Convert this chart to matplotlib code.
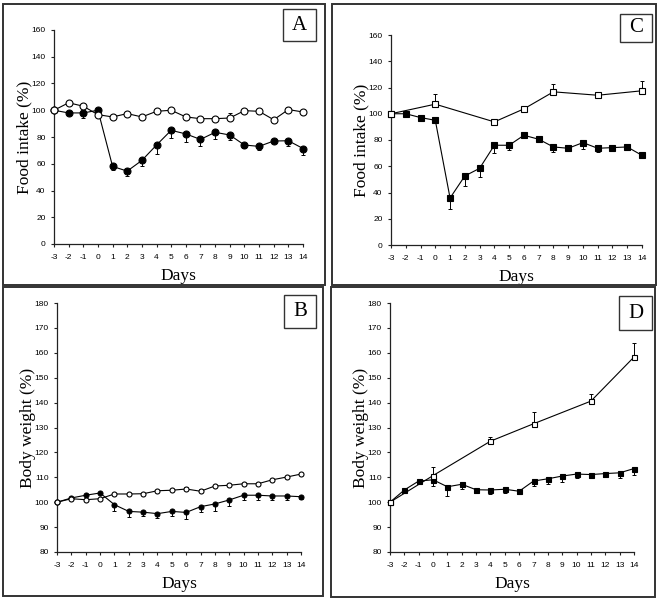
import numpy as np
import matplotlib.pyplot as plt
from matplotlib.patches import Rectangle

plt.rcParams['axes.unicode_minus'] = False

# ─── data ───────────────────────────────────────────────────────────────────
DAYS = list(range(-3, 15))

# A: food intake, circles
A_FILLED = [100, 98, 98, 100, 58, 54.5, 62.5, 74, 85, 82.3, 78.2, 83.5, 81.5, 74, 73, 77, 77.2, 71.4]
A_FILLED_ERR = [0, 0, 4, 0, 3, 4, 4.5, 7, 6, 6, 5, 5, 4, 2, 2.5, 1.5, 4, 5]
A_OPEN = [100, 105.6, 103, 96.7, 95, 97.5, 95, 99.2, 100, 95, 93.7, 93.7, 94.2, 99.7, 99.2, 92.9, 100.5, 98.7]
A_OPEN_ERR = [0, 0, 0, 0, 0, 0, 0, 0, 0, 0, 0, 0, 4, 0, 0, 0, 2, 0]

# B: body weight, circles
B_FILLED = [100, 101.7, 102.8, 103.7, 99, 96.3, 96, 95.4, 96.3, 95.9, 98.2, 99.3, 100.9, 102.8, 102.8, 102.5, 102.5, 102.2]
B_FILLED_ERR = [0, 0, 0, 0, 2.4, 2.4, 1.7, 1.7, 1.7, 2.6, 2.3, 2.7, 2.3, 2.1, 2, 1.5, 1.5, 0.8]
B_OPEN = [100, 101.4, 101, 101.4, 103.3, 103.3, 103.4, 104.6, 104.8, 105.3, 104.4, 106.5, 106.8, 107.4, 107.4, 109, 110.1, 111.3]
B_OPEN_ERR = [0, 0, 0, 0, 0, 0, 0, 0, 0, 1, 0.8, 0, 0, 0, 0, 0, 0, 0]

# C: food intake, squares
C_FILLED = [100, 100, 97.1, 95, 35.8, 52.6, 58.4, 76, 76, 83.6, 80.6, 74.7, 73.7, 78, 73.7, 74.2, 74.7, 68.3]
C_FILLED_ERR = [0, 0, 0, 0, 8, 7.6, 6.6, 5.6, 3.8, 0, 2, 3.8, 0, 5, 2.8, 0, 0, 0]
C_OPEN_DAYS = [-3, 0, 4, 6, 8, 11, 14]
C_OPEN = [100, 107.3, 93.8, 103.7, 116.7, 114.1, 117.5]
C_OPEN_ERR = [0, 7.7, 0, 0, 5.8, 0, 7.1]

# D: body weight, squares
D_FILLED = [100, 104.9, 108.5, 109, 106.2, 107.2, 105, 104.9, 105.2, 104.4, 108.5, 109.4, 110.5, 111.3, 111.1, 111.5, 111.8, 113.5]
D_FILLED_ERR = [0, 0, 0, 2.4, 3.6, 2, 1.5, 1.5, 1.5, 1, 2, 2, 2.4, 1.5, 1.5, 1.5, 2, 2.7]
D_OPEN_DAYS = [-3, 0, 4, 7, 11, 14]
D_OPEN = [100, 110.7, 124.5, 131.5, 140.6, 158.3]
D_OPEN_ERR = [0, 3.6, 1.8, 4.8, 3, 5.7]

W, H = 661, 601
SANS = 'Liberation Sans'
SERIF = 'Liberation Serif'


def fig_rect(x0, y0, x1, y1):
    """pixel box (top-left origin) -> figure fraction [l, b, w, h]"""
    return [x0 / W, 1 - y1 / H, (x1 - x0) / W, (y1 - y0) / H]


def style_axes(ax, ylim, yticks, ylabel):
    for side in ('top', 'right'):
        ax.spines[side].set_visible(False)
    for side in ('left', 'bottom'):
        ax.spines[side].set_linewidth(0.9)
        ax.spines[side].set_color('#222222')
    ax.set_xlim(-3, 14)
    ax.set_ylim(*ylim)
    ax.set_xticks(DAYS)
    ax.set_yticks(yticks)
    ax.tick_params(direction='out', length=2.5, width=0.8, color='#222222',
                   labelsize=6)
    ax.tick_params(axis='x', pad=5)
    ax.tick_params(axis='y', pad=3.5)
    for lab in ax.get_xticklabels() + ax.get_yticklabels():
        lab.set_family(SANS)
    ax.set_xlabel('Days', family=SERIF, fontsize=12.5, labelpad=5)
    ax.set_ylabel(ylabel, family=SERIF, fontsize=12.5, labelpad=-1)
    ax.patch.set_alpha(0)


def series(ax, x, y, err, marker, face, ms, up):
    x = np.asarray(x)
    y = np.asarray(y, dtype=float)
    err = np.asarray(err, dtype=float)
    m = err > 0
    zeros = np.zeros(m.sum())
    yerr = [zeros, err[m]] if up else [err[m], zeros]
    eb = ax.errorbar(x[m], y[m], yerr=yerr, fmt='none', ecolor='black',
                     elinewidth=0.7, capsize=1.2, capthick=0.7, zorder=2)
    for art in eb.lines[1] + eb.lines[2]:
        art.set_clip_on(False)
    ax.plot(x, y, color='black', lw=0.8, marker=marker, ms=ms,
            mfc=face, mec='black', mew=0.8, zorder=3, clip_on=False)


def frame(fig, x0, y0, x1, y1, lw=1.4):
    l, b, w, h = fig_rect(x0, y0, x1, y1)
    fig.patches.append(Rectangle((l, b), w, h, transform=fig.transFigure,
                                 fill=False, ec='#333333', lw=lw))


def letter(fig, txt, x0, y0, x1, y1):
    frame(fig, x0, y0, x1, y1, lw=1.0)
    l, b, w, h = fig_rect(x0, y0, x1, y1)
    fig.text(l + w / 2, b + h / 2, txt, family=SERIF, fontsize=15,
             ha='center', va='center')


fig = plt.figure(figsize=(W / 100, H / 100), dpi=100)

# panel frames
frame(fig, 3, 4, 325, 285)
frame(fig, 332, 4, 656, 285)
frame(fig, 3, 287, 323, 596)
frame(fig, 331, 287, 655, 597)

ax_a = fig.add_axes(fig_rect(54, 30, 303, 244))
style_axes(ax_a, (0, 160), range(0, 161, 20), 'Food intake (%)')
series(ax_a, DAYS, A_FILLED, A_FILLED_ERR, 'o', 'black', 5, up=False)
series(ax_a, DAYS, A_OPEN, A_OPEN_ERR, 'o', 'white', 5, up=True)

ax_c = fig.add_axes(fig_rect(391, 35, 642, 245))
style_axes(ax_c, (0, 160), range(0, 161, 20), 'Food intake (%)')
series(ax_c, DAYS, C_FILLED, C_FILLED_ERR, 's', 'black', 4.6, up=False)
series(ax_c, C_OPEN_DAYS, C_OPEN, C_OPEN_ERR, 's', 'white', 4.6, up=True)

ax_b = fig.add_axes(fig_rect(57, 303, 301, 552))
style_axes(ax_b, (80, 180), range(80, 181, 10), 'Body weight (%)')
series(ax_b, DAYS, B_FILLED, B_FILLED_ERR, 'o', 'black', 3.6, up=False)
series(ax_b, DAYS, B_OPEN, B_OPEN_ERR, 'o', 'white', 3.6, up=True)

ax_d = fig.add_axes(fig_rect(390, 303, 634, 552))
style_axes(ax_d, (80, 180), range(80, 181, 10), 'Body weight (%)')
series(ax_d, DAYS, D_FILLED, D_FILLED_ERR, 's', 'black', 3.6, up=False)
series(ax_d, D_OPEN_DAYS, D_OPEN, D_OPEN_ERR, 's', 'white', 3.6, up=True)

letter(fig, 'A', 283, 9, 316, 41)
letter(fig, 'C', 620, 14, 652, 42)
letter(fig, 'B', 284, 295, 316, 328)
letter(fig, 'D', 619, 296, 652, 330)

fig.savefig('out.png', dpi=100)
